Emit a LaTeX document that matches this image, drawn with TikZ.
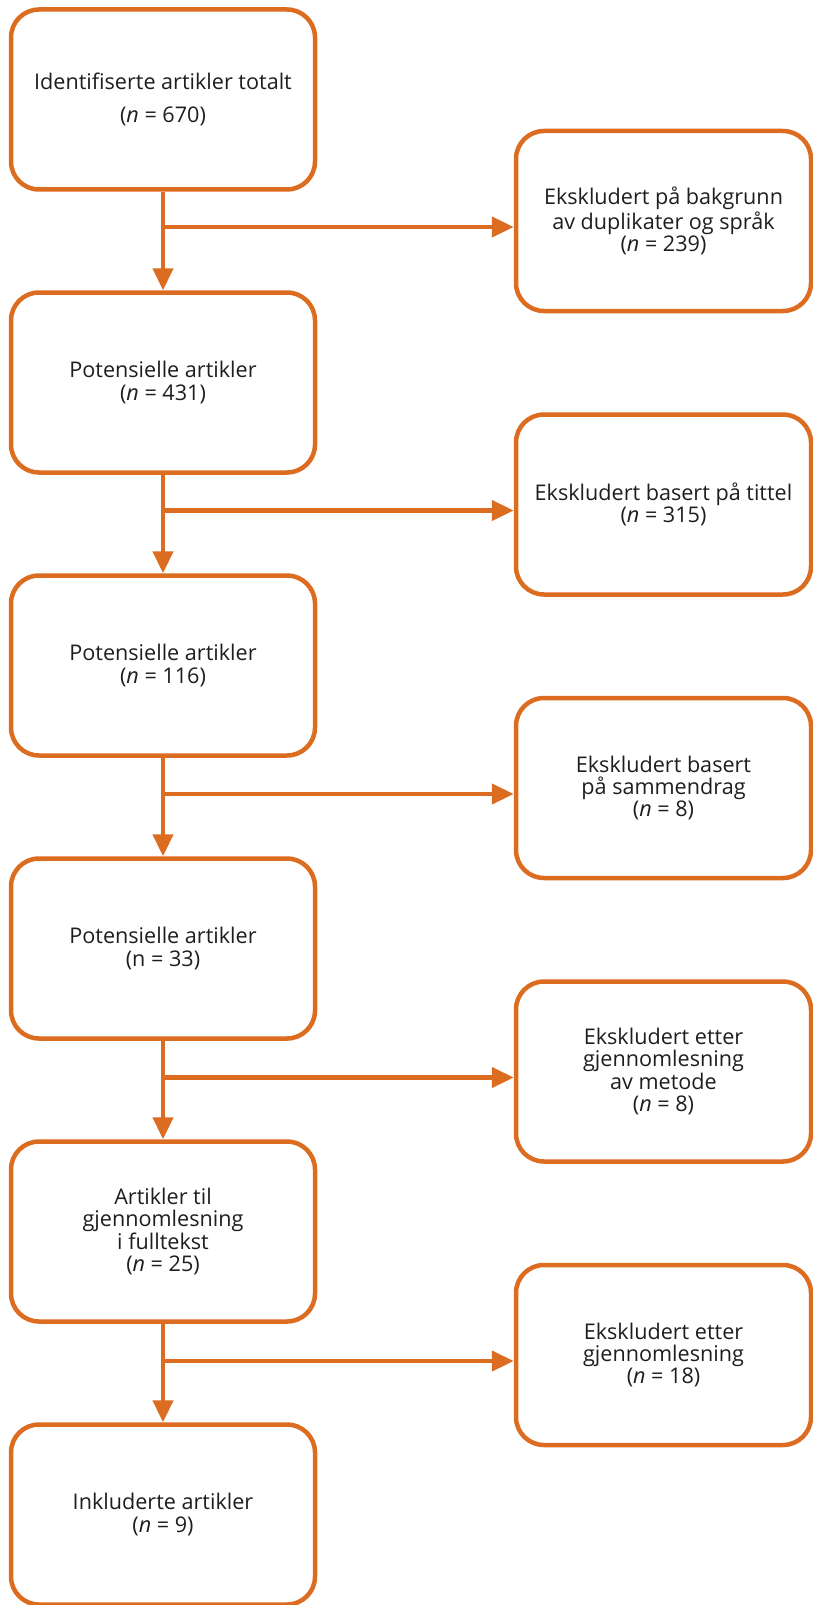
\documentclass[tikz,border=0pt]{standalone}
\usepackage{fontspec}
\setmainfont{Open Sans}
\usepackage{tikz}
\usetikzlibrary{arrows.meta}
\definecolor{flowor}{RGB}{220,108,32}
\definecolor{flowtxt}{RGB}{30,30,30}

\begin{document}
\begin{tikzpicture}[x=0.5pt,y=-0.5pt,>={Triangle[length=11pt,width=10pt]},
        stepbox/.style={draw=flowor,line width=2.25pt,rounded corners=14pt,align=center,
            text=flowtxt,font=\fontsize{10.8}{11.2}\selectfont,inner sep=0pt},
        leftbox/.style={stepbox,minimum width=152pt,minimum height=90pt},
        rightbox/.style={stepbox,minimum width=147.5pt,minimum height=90pt},
        flow/.style={draw=flowor,line width=2.25pt,->}]
        \useasboundingbox (0,0) rectangle (813,1605);
        % main column
        \node[leftbox] (ident) at (163,99.5) {Identifiserte artikler totalt\\[5pt](\textit{n} = 670)};
        \node[leftbox] (pot1) at (163,382.5) {Potensielle artikler\\(\textit{n} = 431)};
        \node[leftbox] (pot2) at (163,665.5) {Potensielle artikler\\(\textit{n} = 116)};
        \node[leftbox] (pot3) at (163,948.5) {Potensielle artikler\\(n = 33)};
        \node[leftbox] (fulltxt) at (163,1231.5) {Artikler til\\gjennomlesning\\i fulltekst\\(\textit{n} = 25)};
        \node[leftbox] (incl) at (163,1514.5) {Inkluderte artikler\\(\textit{n} = 9)};
        % excluded column
        \node[rightbox] (exdup) at (663.5,221) {Ekskludert på bakgrunn\\av duplikater og språk\\(\textit{n} = 239)};
        \node[rightbox] (extit) at (663.5,504.5) {Ekskludert basert på tittel\\(\textit{n} = 315)};
        \node[rightbox] (exsum) at (663.5,788) {Ekskludert basert\\på sammendrag\\(\textit{n} = 8)};
        \node[rightbox] (exmet) at (663.5,1071.5) {Ekskludert etter\\gjennomlesning\\av metode\\(\textit{n} = 8)};
        \node[rightbox] (exful) at (663.5,1355) {Ekskludert etter\\gjennomlesning\\(\textit{n} = 18)};
        % branch points
        \coordinate (j1) at (163,227);
        \coordinate (j2) at (163,510.5);
        \coordinate (j3) at (163,794);
        \coordinate (j4) at (163,1077.5);
        \coordinate (j5) at (163,1361);
        % connectors
        \draw[flow] (ident) -- (pot1);
        \draw[flow] (pot1) -- (pot2);
        \draw[flow] (pot2) -- (pot3);
        \draw[flow] (pot3) -- (fulltxt);
        \draw[flow] (fulltxt) -- (incl);
        \draw[flow] (j1) -- (j1 -| exdup.west);
        \draw[flow] (j2) -- (j2 -| extit.west);
        \draw[flow] (j3) -- (j3 -| exsum.west);
        \draw[flow] (j4) -- (j4 -| exmet.west);
        \draw[flow] (j5) -- (j5 -| exful.west);
\end{tikzpicture}
\end{document}
